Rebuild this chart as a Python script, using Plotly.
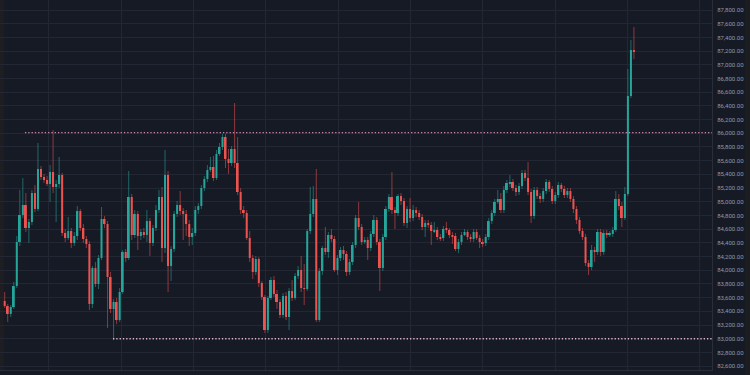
import plotly.graph_objects as go

# ---- data (BTC-style intraday candles) ----
opens = [83551, 83478, 83362, 83464, 83770, 84413, 84807, 84953, 84617, 84705,
         85128, 84895, 85479, 85362, 85318, 85260, 85435, 85216, 85260, 85391,
         84544, 84471, 84573, 84398, 84500, 84865, 84617, 84457, 84384, 83508,
         84033, 83800, 84179, 84749, 84676, 83902, 83435, 83537, 83274, 83683,
         84267, 84179, 85070, 84515, 84822, 84500, 84559, 84515, 84719, 84398,
         84617, 84880, 85070, 84325, 85391, 84062, 84311, 84822, 84953, 84865,
         84822, 84676, 84486, 84544, 84880, 84938, 85201, 85333, 85464, 85508,
         85347, 85698, 85800, 85946, 85625, 85566, 85771, 85566, 85143, 84880,
         84836, 84471, 84179, 83975, 84165, 83814, 83610, 83128, 83595, 83858,
         83654, 83537, 83347, 83624, 83318, 83697, 83595, 83916, 84004, 83741,
         83727, 84573, 84822, 85041, 83274, 83989, 84325, 84267, 84515, 84457,
         84004, 84179, 84296, 84238, 83975, 84121, 84369, 84763, 84632, 84413,
         84442, 84325, 84530, 84734, 84413, 84033, 84486, 84895, 85070, 84880,
         84836, 85084, 85011, 84690, 84895, 84763, 84880, 84836, 84778, 84632,
         84690, 84661, 84573, 84588, 84486, 84471, 84603, 84588, 84515, 84500,
         84311, 84413, 84515, 84559, 84486, 84457, 84559, 84471, 84413, 84398,
         84486, 84719, 84836, 84997, 85041, 84880, 85172, 85274, 85289, 85201,
         85143, 85230, 85420, 85347, 85143, 84792, 85172, 85084, 85041, 85157,
         85289, 85187, 85011, 85099, 85245, 85187, 85099, 85157, 85041, 84895,
         84734, 84573, 84486, 84106, 84048, 84296, 84267, 84559, 84267, 84544,
         84515, 84530, 84588, 85041, 84938, 84763, 85114, 86544, 87216]

closes = [83478, 83362, 83464, 83770, 84413, 84807, 84953, 84617, 84705, 85128,
          84895, 85479, 85362, 85318, 85260, 85435, 85216, 85260, 85391, 84544,
          84471, 84573, 84398, 84500, 84865, 84617, 84457, 84384, 83508, 84033,
          83800, 84179, 84749, 84676, 83902, 83435, 83537, 83274, 83683, 84267,
          84179, 85070, 84515, 84822, 84500, 84559, 84515, 84719, 84398, 84617,
          84880, 85070, 84325, 85391, 84062, 84311, 84822, 84953, 84865, 84822,
          84676, 84486, 84544, 84880, 84938, 85201, 85333, 85464, 85508, 85347,
          85698, 85800, 85946, 85625, 85566, 85771, 85566, 85143, 84880, 84836,
          84471, 84179, 83975, 84165, 83814, 83610, 83128, 83595, 83858, 83654,
          83537, 83347, 83624, 83318, 83697, 83595, 83916, 84004, 83741, 83727,
          84573, 84822, 85041, 83274, 83989, 84325, 84267, 84515, 84457, 84004,
          84179, 84296, 84238, 83975, 84121, 84369, 84763, 84632, 84413, 84442,
          84325, 84530, 84734, 84413, 84033, 84486, 84895, 85070, 84880, 84836,
          85084, 85011, 84690, 84895, 84763, 84880, 84836, 84778, 84632, 84690,
          84661, 84573, 84588, 84486, 84471, 84603, 84588, 84515, 84500, 84311,
          84413, 84515, 84559, 84486, 84457, 84559, 84471, 84413, 84398, 84486,
          84719, 84836, 84997, 85041, 84880, 85172, 85274, 85289, 85201, 85143,
          85230, 85420, 85347, 85143, 84792, 85172, 85084, 85041, 85157, 85289,
          85187, 85011, 85099, 85245, 85187, 85099, 85157, 85041, 84895, 84734,
          84573, 84486, 84106, 84048, 84296, 84267, 84559, 84267, 84544, 84515,
          84530, 84588, 85041, 84938, 84763, 85114, 86544, 87216, 87201]

highs = [83683, 83508, 83493, 83829, 84500, 85172, 85347, 85128, 84749, 85172,
         85245, 85858, 85522, 85406, 85376, 85537, 86048, 85318, 85654, 85420,
         84603, 84778, 84617, 84559, 84938, 84895, 84676, 84500, 84427, 84062,
         84121, 84223, 84924, 84792, 84719, 83975, 83581, 83595, 83741, 84296,
         84311, 85449, 85114, 84880, 84865, 84603, 84617, 84880, 84763, 84661,
         84953, 85172, 85216, 85756, 85449, 84354, 84865, 85011, 85157, 84909,
         84880, 84734, 84617, 84938, 84982, 85245, 85376, 85537, 85654, 85669,
         85756, 85858, 85990, 85990, 85771, 85814, 86442, 85946, 85201, 84938,
         84880, 84573, 84223, 84208, 84194, 83843, 83639, 83624, 83902, 83916,
         83712, 83581, 83668, 83683, 83741, 83858, 83960, 84062, 84208, 84092,
         84603, 85216, 85230, 85479, 84033, 84354, 84632, 84559, 84603, 84500,
         84223, 84340, 84354, 84281, 84165, 84413, 84807, 84997, 84676, 84486,
         84486, 84573, 84807, 84778, 84457, 84530, 84938, 85114, 85435, 84924,
         85114, 85128, 85055, 84938, 85055, 84953, 84924, 84880, 84822, 84734,
         84734, 84705, 84705, 84632, 84530, 84646, 84705, 84617, 84559, 84544,
         84457, 84559, 84603, 84588, 84530, 84603, 84603, 84515, 84457, 84530,
         84763, 84880, 85041, 85172, 85128, 85230, 85318, 85391, 85333, 85245,
         85274, 85464, 85464, 85581, 85187, 85216, 85216, 85128, 85201, 85333,
         85318, 85230, 85143, 85289, 85274, 85230, 85201, 85201, 85084, 84938,
         84778, 84617, 84530, 84150, 84369, 84340, 84603, 84603, 84588, 84588,
         84573, 84632, 85157, 85114, 84997, 85216, 86939, 87362, 87552]

lows = [83449, 83245, 83318, 83435, 83741, 84354, 84763, 84559, 84398, 84661,
        84851, 84865, 85318, 85274, 85230, 84997, 85128, 84705, 85201, 84500,
        84413, 84442, 84325, 84354, 84442, 84573, 84398, 84325, 83420, 83449,
        83756, 83727, 84150, 84617, 83157, 83376, 82982, 83216, 83245, 83654,
        84121, 84150, 84442, 84471, 84296, 84442, 84471, 84413, 84208, 84354,
        84573, 84836, 84121, 84252, 83683, 83843, 84267, 84778, 84807, 84442,
        84500, 84354, 84369, 84500, 84822, 84895, 85157, 85289, 85435, 85303,
        85318, 85669, 85756, 85493, 85406, 85522, 85493, 85099, 84822, 84763,
        84442, 84121, 83873, 83931, 83756, 83566, 83084, 83084, 83566, 83610,
        83435, 83303, 83303, 83274, 83128, 83551, 83566, 83873, 83683, 83493,
        83697, 84530, 84778, 83245, 83245, 83931, 84223, 84179, 84413, 83975,
        83931, 84135, 84150, 83916, 83931, 84077, 84325, 84588, 84369, 84384,
        84150, 84281, 84486, 84369, 83697, 83989, 84442, 84851, 84822, 84603,
        84792, 84953, 84646, 84617, 84705, 84719, 84778, 84734, 84588, 84486,
        84617, 84369, 84544, 84442, 84427, 84427, 84544, 84471, 84384, 84281,
        84252, 84369, 84500, 84442, 84413, 84413, 84442, 84325, 84340, 84354,
        84442, 84676, 84792, 84968, 84836, 84836, 85128, 85216, 85157, 85084,
        85099, 85187, 85303, 85099, 84690, 84749, 85041, 84982, 84997, 85114,
        85143, 84968, 84968, 85055, 85143, 85055, 85055, 84997, 84836, 84676,
        84530, 84442, 84062, 83931, 84004, 84121, 84223, 84208, 84223, 84471,
        84486, 84486, 84559, 84880, 84632, 84734, 85084, 86515, 87085]

# horizontal dotted levels: (price, first candle index)
resistance_level = 86010
resistance_start = 6.7
support_level = 83000
support_start = 35.8

y_ticks = [82600, 82800, 83000, 83200, 83400, 83600, 83800, 84000, 84200, 84400,
           84600, 84800, 85000, 85200, 85400, 85600, 85800, 86000, 86200, 86400,
           86600, 86800, 87000, 87200, 87400, 87600, 87800]

# ---- styling ----
BG = "#161a25"
GRID = "#232733"
UP = "#26a69a"
DOWN = "#ef5350"
UP_WICK = "rgba(38,166,154,0.55)"
DOWN_WICK = "rgba(239,83,80,0.55)"
X_MIN, X_MAX = -1.55, 233.8

n = len(closes)
idx = list(range(n))

fig = go.Figure()

# wicks
for want_up, col in ((True, UP_WICK), (False, DOWN_WICK)):
    wx, wy = [], []
    for i in idx:
        if (closes[i] >= opens[i]) == want_up:
            wx += [i, i, None]
            wy += [lows[i], highs[i], None]
    fig.add_trace(go.Scatter(x=wx, y=wy, mode="lines",
                             line=dict(color=col, width=1),
                             hoverinfo="skip", showlegend=False))

# bodies
base = [min(o, c) for o, c in zip(opens, closes)]
height = [max(abs(c - o), 14) for o, c in zip(opens, closes)]
colors = [UP if c >= o else DOWN for o, c in zip(opens, closes)]
fig.add_trace(go.Bar(x=idx, y=height, base=base, width=0.66,
                     marker=dict(color=colors, line=dict(width=0)),
                     hoverinfo="skip", showlegend=False))

# dotted levels
fig.add_trace(go.Scatter(x=[resistance_start, X_MAX], y=[resistance_level, resistance_level],
                         mode="lines", line=dict(color="#cf85b0", width=1.4, dash="1.3px,2px"),
                         hoverinfo="skip", showlegend=False))
fig.add_trace(go.Scatter(x=[support_start, X_MAX], y=[support_level, support_level],
                         mode="lines", line=dict(color="#e2b4cf", width=1.4, dash="1.3px,2px"),
                         hoverinfo="skip", showlegend=False))

fig.update_layout(
    width=750, height=375,
    margin=dict(l=0, r=38, t=0, b=5),
    paper_bgcolor=BG, plot_bgcolor=BG,
    barmode="overlay",
    hovermode=False,
    showlegend=False,
    font=dict(family="Roboto", size=6, color="#9598a1"),
    xaxis=dict(range=[X_MIN, X_MAX], showticklabels=False, showgrid=True,
               gridcolor=GRID, gridwidth=1, tick0=14.64, dtick=23.9,
               zeroline=False, showline=True, linecolor="#2a2e39", linewidth=1,
               ticks=""),
    yaxis=dict(range=[82544, 87946], side="right", tickmode="array",
               tickvals=y_ticks, tickformat=",.2f", showgrid=True,
               gridcolor=GRID, gridwidth=1, zeroline=False, showline=True,
               linecolor="#2a2e39", linewidth=1, ticks="",
               ticklabelstandoff=3,
               tickfont=dict(family="Roboto", size=6, color="#9598a1")),
    shapes=[
        dict(type="rect", xref="paper", yref="paper", x0=0, x1=0.0056, y0=0, y1=1,
             fillcolor="#1e1e22", line=dict(width=0), layer="below"),
        dict(type="rect", xref="paper", yref="paper", x0=1.0463, x1=1.06, y0=-0.02, y1=1.0,
             fillcolor="#1c1d21", line=dict(width=0), layer="above"),
    ],
)

fig.write_html("out.html")
